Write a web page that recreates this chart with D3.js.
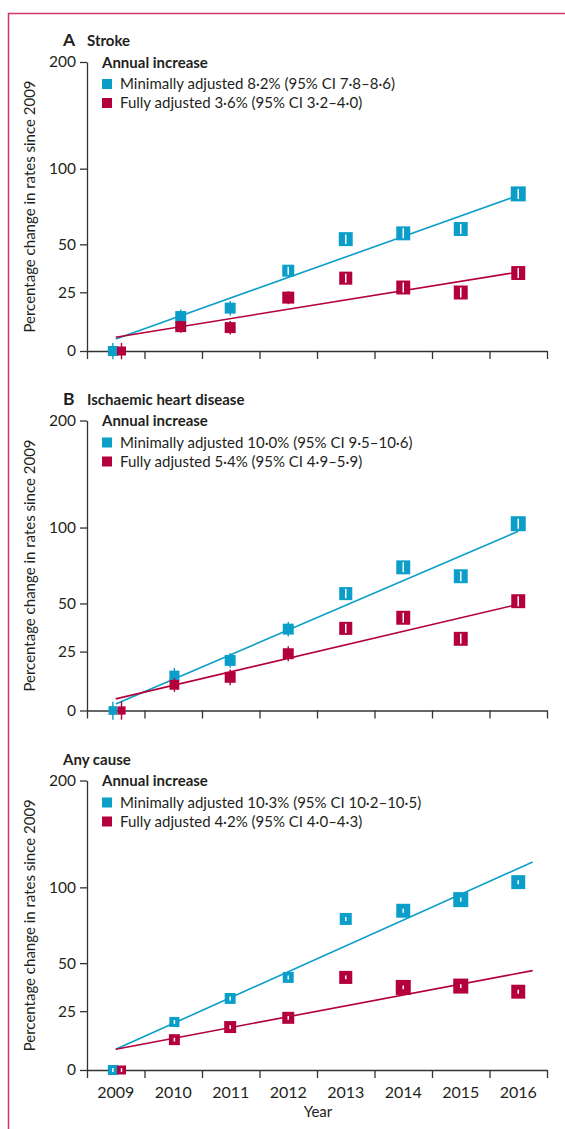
<!DOCTYPE html>
<html>
<head>
<meta charset="utf-8">
<script src="https://cdn.jsdelivr.net/npm/d3@7"></script>
<style>
  body { margin: 0; background: #fff; }
  text { font-family: Lato, "Open Sans", sans-serif; fill: #231f20; }
</style>
</head>
<body>
<div id="chart"></div>
<script>

// years and where the markers sit (2009 is dodged)
var years = [2009, 2010, 2011, 2012, 2013, 2014, 2015, 2016];
var xMinimal = [2008.95, 2010.02, 2010.99, 2012, 2013, 2014, 2015, 2016];
var xFully = [2009.1, 2010.02, 2010.99, 2012, 2013, 2014, 2015, 2016];
var xMinimalStroke = [2008.95, 2010.13, 2010.99, 2012, 2013, 2014, 2015, 2016];
var xFullyStroke = [2009.1, 2010.13, 2010.99, 2012, 2013, 2014, 2015, 2016];

var yTicks = [0, 25, 50, 100, 200];

// percentage change since 2009
var strokeMin = [0, 14, 17.7, 35.7, 53, 56.4, 59, 81.7];
var strokeFull = [0, 9.7, 9.3, 22.5, 31.9, 27.3, 24.9, 34.5];
var ihdMin = [0, 14.1, 20.9, 36.1, 55.7, 72, 66.3, 102.9];
var ihdFull = [0, 10.2, 13.4, 24, 36.5, 42.1, 31.2, 51.3];
var anyMin = [0, 20, 31.2, 42.1, 77.4, 83, 90.9, 104];
var anyFull = [0, 12.2, 17.7, 21.9, 42.1, 36.8, 37.5, 34.6];

// half width of the 95% CI, percentage points
var strokeMinCI = [3.1, 3.1, 3.2, 2.6, 2.75, 3, 3.1, 3.5];
var strokeFullCI = [3.1, 2.5, 2.8, 3, 2.5, 2.4, 2.4, 2.6];
var ihdMinCI = [3.4, 3.4, 3.3, 3.8, 3, 3.3, 3.2, 3.9];
var ihdFullCI = [3.4, 2.9, 3.4, 3.5, 2.6, 2.7, 2.5, 2.9];
var anyMinCI = [0.8, 0.9, 1.0, 1.1, 1.35, 1.4, 1.45, 1.55];
var anyFullCI = [0.7, 0.8, 0.85, 0.9, 1.0, 1.0, 1.0, 1.0];

// relative weight of each estimate (box size)
var strokeMinW = [67, 73, 73, 80, 93, 93, 93, 100];
var strokeFullW = [60, 73, 73, 80, 87, 93, 93, 93];
var ihdMinW = [58, 67, 73, 73, 87, 93, 93, 100];
var ihdFullW = [55, 65, 73, 73, 87, 93, 93, 93];
var anyMinW = [67, 67, 73, 73, 80, 93, 100, 93];
var anyFullW = [60, 73, 80, 80, 87, 100, 100, 93];

// fitted trend: value at 2009 (%), annual increase (%), last year of the line
var strokeFitMin = [4.7, 8.1, 2016];
var strokeFitFull = [5.4, 3.6, 2016];
var ihdFitMin = [2.5, 9.8, 2016];
var ihdFitFull = [4.5, 5.25, 2016];
var anyFitMin = [8.2, 10.3, 2016.25];
var anyFitFull = [8.2, 4.2, 2016.25];

var legendMin = ["Minimally adjusted 8·2% (95% CI 7·8–8·6)",
                 "Minimally adjusted 10·0% (95% CI 9·5–10·6)",
                 "Minimally adjusted 10·3% (95% CI 10·2–10·5)"];
var legendFull = ["Fully adjusted 3·6% (95% CI 3·2–4·0)",
                  "Fully adjusted 5·4% (95% CI 4·9–5·9)",
                  "Fully adjusted 4·2% (95% CI 4·0–4·3)"];

var blue = "#0a9ec8",
    red = "#b3003c";

var fs = "15px";

var panels = [
  {letter: "A", title: "Stroke", top: 62, bottom: 351,
   series: [
     {x: xMinimalStroke, v: strokeMin, ci: strokeMinCI, w: strokeMinW, fit: strokeFitMin, color: blue},
     {x: xFullyStroke, v: strokeFull, ci: strokeFullCI, w: strokeFullW, fit: strokeFitFull, color: red}]},
  {letter: "B", title: "Ischaemic heart disease", top: 420.5, bottom: 710.5,
   series: [
     {x: xMinimal, v: ihdMin, ci: ihdMinCI, w: ihdMinW, fit: ihdFitMin, color: blue},
     {x: xFully, v: ihdFull, ci: ihdFullCI, w: ihdFullW, fit: ihdFitFull, color: red}]},
  {letter: "", title: "Any cause", top: 780.5, bottom: 1070,
   series: [
     {x: xMinimal, v: anyMin, ci: anyMinCI, w: anyMinW, fit: anyFitMin, color: blue},
     {x: xFully, v: anyFull, ci: anyFullCI, w: anyFullW, fit: anyFitFull, color: red}]}
];

var W = 565, H = 1129;

var svg = d3.select("#chart")
  .append("svg")
  .attr("width", W)
  .attr("height", H);

// frame on the left and top
svg.append("path")
  .attr("d", "M8.5," + H + "V13.5H" + W)
  .attr("fill", "none")
  .attr("stroke", "#d6336c")
  .attr("stroke-width", 1.5);

var x = d3.scaleLinear()
  .domain([2008.5, 2016.5])
  .range([87, 547]);

var boxSize = d3.scaleLinear().domain([0, 100]).range([0, 15]);

panels.forEach(function(p, i) {
  var g = svg.append("g");

  var y = d3.scaleLog()
    .domain([1, 3])
    .range([p.bottom, p.top]);
  var yv = function(v) { return y(1 + v / 100); };

  // title
  var title = g.append("text")
    .attr("x", 63)
    .attr("y", p.top - 16)
    .style("font-weight", "bold");
  if (p.letter) {
    title.append("tspan").style("font-size", "17.5px").text(p.letter);
    title.append("tspan").attr("x", 87).style("font-size", fs).text(p.title);
  } else {
    title.append("tspan").style("font-size", fs).text(p.title);
  }

  // legend
  g.append("text")
    .attr("x", 102)
    .attr("y", p.top + 5.5)
    .style("font-size", fs)
    .style("font-weight", "bold")
    .text("Annual increase");

  [legendMin[i], legendFull[i]].forEach(function(label, j) {
    var ly = p.top + 22 + j * 19;
    g.append("rect")
      .attr("x", 102).attr("y", ly - 5)
      .attr("width", 10).attr("height", 10)
      .attr("fill", j == 0 ? blue : red);
    g.append("text")
      .attr("x", 120)
      .attr("y", ly + 5)
      .style("font-size", fs)
      .text(label);
  });

  // y axis
  var yAxis = g.append("g")
    .attr("transform", "translate(87,0)")
    .call(d3.axisLeft(y)
      .tickValues(yTicks.map(function(d) { return 1 + d / 100; }))
      .tickFormat(function(d) { return Math.round((d - 1) * 100); })
      .tickSize(7)
      .tickPadding(4)
      .tickSizeOuter(0));

  // x axis, ticks between the years
  var xAxis = g.append("g")
    .attr("transform", "translate(0," + p.bottom + ")")
    .call(d3.axisBottom(x)
      .tickValues(d3.range(2008.5, 2017, 1))
      .tickFormat("")
      .tickSize(8)
      .tickSizeOuter(0));

  [yAxis, xAxis].forEach(function(a) {
    a.select(".domain").attr("stroke", "#333").attr("stroke-width", 1.3);
    a.selectAll(".tick line").attr("stroke", "#333").attr("stroke-width", 1.3);
    a.selectAll(".tick text")
      .style("font-family", "Lato, sans-serif")
      .style("font-size", "15.5px")
      .attr("fill", "#231f20");
  });

  g.append("text")
    .attr("transform", "rotate(-90)")
    .attr("x", -(p.top + p.bottom) / 2)
    .attr("y", 35)
    .attr("text-anchor", "middle")
    .style("font-size", fs)
    .text("Percentage change in rates since 2009");

  // fitted lines
  p.series.forEach(function(s) {
    var ends = [2009, s.fit[2]];
    g.append("path")
      .datum(ends)
      .attr("fill", "none")
      .attr("stroke", s.color)
      .attr("stroke-width", 1.6)
      .attr("d", d3.line()
        .x(function(d) { return x(d); })
        .y(function(d) { return yv((1 + s.fit[0] / 100) * Math.pow(1 + s.fit[1] / 100, d - 2009) * 100 - 100); }));
  });

  // estimates: CI line, box, white CI inside box
  p.series.forEach(function(s) {
    var pts = years.map(function(yr, k) {
      return {xv: s.x[k], v: s.v[k], lo: s.v[k] - s.ci[k], hi: s.v[k] + s.ci[k], w: s.w[k]};
    });

    g.selectAll(null)
      .data(pts)
      .enter()
      .append("line")
      .attr("x1", function(d) { return x(d.xv); })
      .attr("x2", function(d) { return x(d.xv); })
      .attr("y1", function(d) { return yv(d.lo); })
      .attr("y2", function(d) { return yv(d.hi); })
      .attr("stroke", s.color)
      .attr("stroke-width", 1.4);

    g.selectAll(null)
      .data(pts)
      .enter()
      .append("rect")
      .attr("x", function(d) { return x(d.xv) - boxSize(d.w) / 2; })
      .attr("y", function(d) { return yv(d.v) - boxSize(d.w) / 2; })
      .attr("width", function(d) { return boxSize(d.w); })
      .attr("height", function(d) { return boxSize(d.w); })
      .attr("fill", s.color);

    g.selectAll(null)
      .data(pts.filter(function(d) {
        return yv(d.v) - yv(d.hi) < boxSize(d.w) / 2 - 1;
      }))
      .enter()
      .append("line")
      .attr("x1", function(d) { return x(d.xv); })
      .attr("x2", function(d) { return x(d.xv); })
      .attr("y1", function(d) { return Math.min(yv(d.lo), yv(d.v) + boxSize(d.w) / 2 - 2); })
      .attr("y2", function(d) { return Math.max(yv(d.hi), yv(d.v) - boxSize(d.w) / 2 + 2); })
      .attr("stroke", "#fff")
      .attr("stroke-width", 1.5);
  });

  // year labels only under the last panel
  if (i == panels.length - 1) {
    g.selectAll(null)
      .data(years)
      .enter()
      .append("text")
      .attr("x", function(d) { return x(d); })
      .attr("y", p.bottom + 28)
      .attr("text-anchor", "middle")
      .style("font-size", "16px")
      .text(function(d) { return d; });

    g.append("text")
      .attr("x", 318)
      .attr("y", p.bottom + 47)
      .attr("text-anchor", "middle")
      .style("font-size", fs)
      .text("Year");
  }
});

</script>
</body>
</html>
